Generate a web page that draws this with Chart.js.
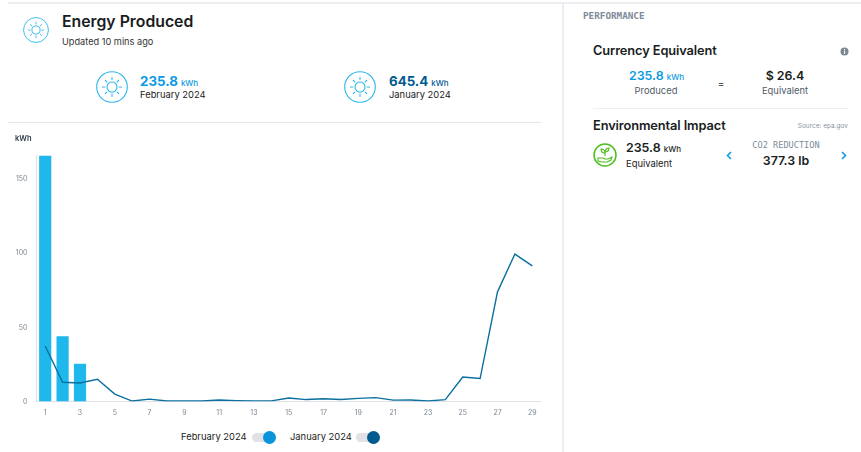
<!DOCTYPE html>
<html>
<head>
<meta charset="utf-8">
<title>Energy Produced</title>
<script src="https://cdn.jsdelivr.net/npm/chart.js@4"></script>
<style>
html, body { margin: 0; padding: 0; background: #fff; overflow: hidden; }
body { width: 861px; height: 452px; position: relative; font-family: Inter, sans-serif; color: #1a1d22; }
.t { position: absolute; white-space: nowrap; transform: translateY(-50%); line-height: 1; }
.c { transform: translate(-50%, -50%); }
.r { transform: translate(-100%, -50%); }
.rule { position: absolute; background: #eeeef2; }
.h { font-size: 12.8px; font-weight: 600; letter-spacing: -0.1px; }
.big { font-size: 13.3px; font-weight: 700; }
.num { font-size: 12.4px; font-weight: 600; }
.unit { font-size: 8px; font-weight: 500; margin-left: 3px; }
.sub { font-size: 9.4px; color: #222; }
.grey { color: #4f5b68; }
.cap { font-family: "DejaVu Sans Mono", monospace; font-size: 9.3px; font-weight: 700; color: #7e8b99; }
.blue { color: #0c9ae2; }
.navy { color: #005a8f; }
.track { position: absolute; top: 433px; width: 18px; height: 9px; border-radius: 5px; background: #e1e1e6; }
.knob { position: absolute; top: 431px; width: 13px; height: 13px; border-radius: 50%; }
svg { position: absolute; overflow: visible; }
#wrap { position: absolute; left: 0; top: 130px; width: 541px; height: 300px; }
</style>
</head>
<body>
<div class="rule" style="left:8px;top:2px;width:853px;height:2px"></div>
<div class="rule" style="left:562px;top:3px;width:2px;height:449px"></div>
<div class="rule" style="left:8px;top:122px;width:533px;height:1px;background:#e6e6ea"></div>

<svg width="26" height="26" style="left:23px;top:16.5px" viewBox="0 0 32 32"><use href="#sun"/></svg>
<div class="t" style="left:62px;top:22px;font-size:15.8px;font-weight:600">Energy Produced</div>
<div class="t" style="left:62px;top:42px;font-size:9.2px;color:#333">Updated 10 mins ago</div>

<svg width="32" height="32" style="left:96px;top:70.5px" viewBox="0 0 32 32"><use href="#sun"/></svg>
<div class="t big blue" style="left:140px;top:82px">235.8<span class="unit">kWh</span></div>
<div class="t sub" style="left:140px;top:95px">February 2024</div>

<svg width="32" height="32" style="left:344px;top:70.5px" viewBox="0 0 32 32"><use href="#sun"/></svg>
<div class="t big navy" style="left:389px;top:82px">645.4<span class="unit">kWh</span></div>
<div class="t sub" style="left:389px;top:95px">January 2024</div>

<div id="wrap"><canvas id="chart" width="541" height="300"></canvas></div>
<div class="t" style="left:15px;top:139px;font-size:7.5px;font-weight:600;color:#2c3a4a">kWh</div>

<div class="t sub" style="left:181px;top:437px">February 2024</div>
<div class="track" style="left:252px"></div>
<div class="knob" style="left:263px;background:#0a94dc"></div>
<div class="t sub" style="left:290px;top:437px">January 2024</div>
<div class="track" style="left:356px"></div>
<div class="knob" style="left:367px;background:#005a8f"></div>

<div class="t cap" style="left:583px;top:16px">PERFORMANCE</div>
<div class="t h" style="left:593px;top:51px">Currency Equivalent</div>
<svg width="9" height="9" style="left:840px;top:47px" viewBox="0 0 9 9"><circle cx="4.5" cy="4.5" r="4" fill="#7d8791"/><rect x="4" y="3.8" width="1.1" height="3" fill="#fff"/><rect x="4" y="2" width="1.1" height="1.1" fill="#fff"/></svg>
<div class="t num blue" style="left:629px;top:76px">235.8<span class="unit">kWh</span></div>
<div class="t sub grey c" style="left:656px;top:91px">Produced</div>
<div class="t c" style="left:721px;top:83px;font-size:9px;font-weight:700;color:#555">=</div>
<div class="t num c" style="left:785px;top:76px">$ 26.4</div>
<div class="t sub grey c" style="left:785px;top:91px">Equivalent</div>
<div class="rule" style="left:593px;top:108px;width:255px;height:1px"></div>

<div class="t h" style="left:593px;top:125.5px">Environmental Impact</div>
<div class="t r" style="left:848px;top:125.5px;font-size:6.5px;color:#8a939c">Source: epa.gov</div>
<svg width="24" height="24" style="left:593px;top:143px" viewBox="0 0 24 24" fill="none" stroke="#4ebd1e" stroke-width="1.1">
  <circle cx="12" cy="12" r="11" stroke-width="1.5"/>
  <path d="M5 15h5l2 1h3l4-2-1 3-4 2H9l-4-1z"/>
  <path d="M12 13V8M12 10C10 10 8 9 8 6c3 0 4 2 4 4zM12 9c0-2 2-4 4-4 0 3-2 4-4 4z"/>
</svg>
<div class="t num" style="left:626px;top:148px">235.8<span class="unit">kWh</span></div>
<div class="t sub" style="left:626px;top:164px">Equivalent</div>
<svg width="6" height="9" style="left:726px;top:151px" fill="none" stroke="#0c9ae2" stroke-width="1.6"><path d="M5 1L1.5 4.5 5 8"/></svg>
<div class="t cap c" style="left:786px;top:145px;font-size:8.6px;font-weight:400">CO2 REDUCTION</div>
<div class="t num c" style="left:786px;top:161px">377.3 lb</div>
<svg width="6" height="9" style="left:841px;top:151px" fill="none" stroke="#0c9ae2" stroke-width="1.6"><path d="M1 1l3.5 3.5L1 8"/></svg>

<svg width="0" height="0" style="left:0;top:0">
  <defs>
    <g id="sun" fill="none" stroke="#29b6ea">
      <circle cx="16" cy="16" r="15.3" stroke-width="1.1"/>
      <circle cx="16" cy="16" r="5" stroke-width="1.1"/>
      <path stroke-width="1.1" stroke-linecap="round" d="M16 6.5v2.2M16 23.3v2.2M6.5 16h2.2M23.3 16h2.2M9.3 9.3l1.6 1.6M21.1 21.1l1.6 1.6M9.3 22.7l1.6-1.6M21.1 10.9l1.6-1.6"/>
    </g>
  </defs>
</svg>

<script>
const days = ['1','2','3','4','5','6','7','8','9','10','11','12','13','14','15','16','17','18','19','20','21','22','23','24','25','26','27','28','29'];
const february2024 = [166, 44, 25.5];
const january2024 = [37.5, 13, 12.5, 15, 5, 0.3, 1.6, 0.3, 0.3, 0.3, 1, 0.6, 0.4, 0.4, 2.4, 1.3, 1.9, 1.4, 2.1, 2.6, 0.9, 1, 0.3, 1.3, 16.5, 15.5, 74, 99.5, 91.5];
const yTicks = [0, 50, 100, 150];

const chart = new Chart(document.getElementById('chart'), {
    data: {
        labels: days,
        datasets: [
            {
                type: 'line',
                label: 'January 2024',
                data: january2024,
                borderColor: '#0b6f9f',
                borderWidth: 1.4,
                pointRadius: 0,
                tension: 0,
                order: 1
            },
            {
                type: 'bar',
                label: 'February 2024',
                data: february2024,
                backgroundColor: '#1fb8ec',
                barPercentage: 0.7,
                categoryPercentage: 1,
                order: 2
            }
        ]
    },
    options: {
        responsive: false,
        animation: false,
        layout: { padding: { top: 25.5, right: 0, bottom: 0, left: 0 } },
        plugins: { legend: { display: false }, tooltip: { enabled: false } },
        scales: {
            x: {
                grid: { display: false, drawTicks: false },
                border: { color: '#dfe1e6' },
                afterFit: function (scale) {
                    scale.height = 28.5;
                    scale.paddingRight = 0;
                    scale.paddingLeft = 0;
                },
                ticks: {
                    autoSkip: false,
                    maxRotation: 0,
                    padding: 7,
                    color: '#7d8792',
                    font: { family: 'Inter', size: 7 },
                    callback: function (value, index) { return index % 2 === 0 ? days[index] : ''; }
                }
            },
            y: {
                min: 0,
                max: 166,
                grid: { display: false, drawTicks: false },
                border: { color: '#dfe1e6' },
                afterFit: function (scale) { scale.width = 36.5; },
                afterBuildTicks: function (scale) { scale.ticks = yTicks.map(v => ({ value: v })); },
                ticks: {
                    padding: 9,
                    color: '#7d8792',
                    font: { family: 'Inter', size: 7 }
                }
            }
        }
    }
});
</script>
</body>
</html>
